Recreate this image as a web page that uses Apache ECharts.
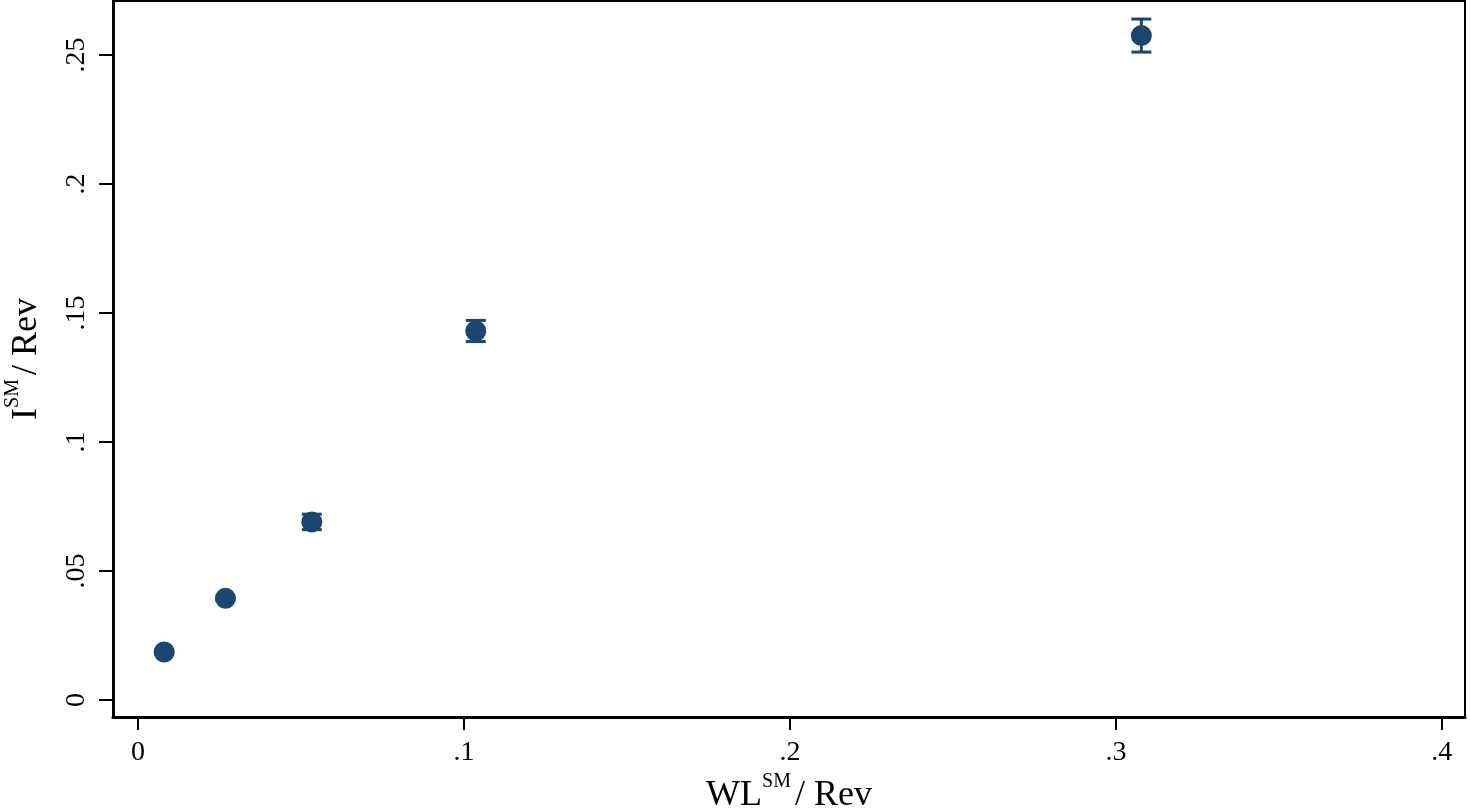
<!DOCTYPE html>
<html>
<head>
<meta charset="utf-8">
<script src="https://cdn.jsdelivr.net/npm/echarts@6/dist/echarts.min.js"></script>
<style>
html,body{margin:0;padding:0;background:#fff;}
#chart{width:1470px;height:809px;}
</style>
</head>
<body>
<div id="chart"></div>
<script>
// Data
var xValues = [0.0080, 0.0268, 0.0533, 0.1036, 0.3078];
var yValues = [0.0186, 0.0394, 0.0690, 0.1430, 0.2575];
var yErrors = [0.0008, 0.0008, 0.0030, 0.0041, 0.0064];
var xTickValues = [0, 0.1, 0.2, 0.3, 0.4];
var xTickLabels = ['0', '.1', '.2', '.3', '.4'];
var yTickValues = [0, 0.05, 0.1, 0.15, 0.2, 0.25];
var yTickLabels = ['0', '.05', '.1', '.15', '.2', '.25'];

var color = '#1a476f';
var serif = '"Liberation Serif","Times New Roman",serif';

function fmt(list, labels) {
  return function (v) {
    for (var i = 0; i < list.length; i++) {
      if (Math.abs(list[i] - v) < 1e-9) return labels[i];
    }
    return '';
  };
}

var points = xValues.map(function (x, i) { return [x, yValues[i]]; });
var errData = xValues.map(function (x, i) { return [x, yValues[i] - yErrors[i], yValues[i] + yErrors[i]]; });

var rich = {
  b: {fontFamily: serif, fontSize: 36, color: '#000', verticalAlign: 'bottom'},
  s: {fontFamily: serif, fontSize: 20, color: '#000', verticalAlign: 'top', padding: [0, 4, 22, 0]}
};

var chart = echarts.init(document.getElementById('chart'));
chart.setOption({
  backgroundColor: '#fff',
  animation: false,
  grid: {left: 113, right: 5, top: 1, bottom: 92, show: true, borderColor: '#000', borderWidth: 2, backgroundColor: '#fff', containLabel: false, outerBoundsMode: 'none'},
  xAxis: {
    type: 'value', min: -0.0077, max: 0.4071,
    splitLine: {show: false},
    axisLine: {show: true, onZero: false, lineStyle: {color: '#000', width: 3}},
    axisTick: {show: true, length: 13, lineStyle: {color: '#000', width: 2}, customValues: xTickValues},
    axisLabel: {show: true, customValues: xTickValues, formatter: fmt(xTickValues, xTickLabels), color: '#000', fontFamily: serif, fontSize: 28, margin: 22},
    name: '{b|WL}{s|SM}{b|/ Rev}',
    nameLocation: 'middle', nameGap: 46,
    nameTextStyle: {rich: rich}
  },
  yAxis: {
    type: 'value', min: -0.0066, max: 0.2709,
    splitLine: {show: false},
    axisLine: {show: true, onZero: false, lineStyle: {color: '#000', width: 3}},
    axisTick: {show: true, length: 14, lineStyle: {color: '#000', width: 2}, customValues: yTickValues},
    axisLabel: {show: true, rotate: 90, customValues: yTickValues, formatter: fmt(yTickValues, yTickLabels), color: '#000', fontFamily: serif, fontSize: 28, margin: 22},
    name: '{b|I}{s|SM}{b|/ Rev}',
    nameLocation: 'middle', nameGap: 68, nameRotate: 90,
    nameTextStyle: {rich: rich}
  },
  series: [
    {
      type: 'custom',
      data: errData,
      z: 3,
      renderItem: function (params, api) {
        var x = api.value(0);
        var lo = api.coord([x, api.value(1)]);
        var hi = api.coord([x, api.value(2)]);
        var hw = 10;
        var st = {stroke: color, lineWidth: 3};
        return {
          type: 'group',
          children: [
            {type: 'line', shape: {x1: lo[0], y1: lo[1], x2: hi[0], y2: hi[1]}, style: st},
            {type: 'line', shape: {x1: lo[0] - hw, y1: lo[1], x2: lo[0] + hw, y2: lo[1]}, style: st},
            {type: 'line', shape: {x1: hi[0] - hw, y1: hi[1], x2: hi[0] + hw, y2: hi[1]}, style: st}
          ]
        };
      }
    },
    {
      type: 'scatter',
      data: points,
      symbol: 'circle',
      symbolSize: 21,
      z: 4,
      itemStyle: {color: color, opacity: 1}
    }
  ]
});
</script>
</body>
</html>
